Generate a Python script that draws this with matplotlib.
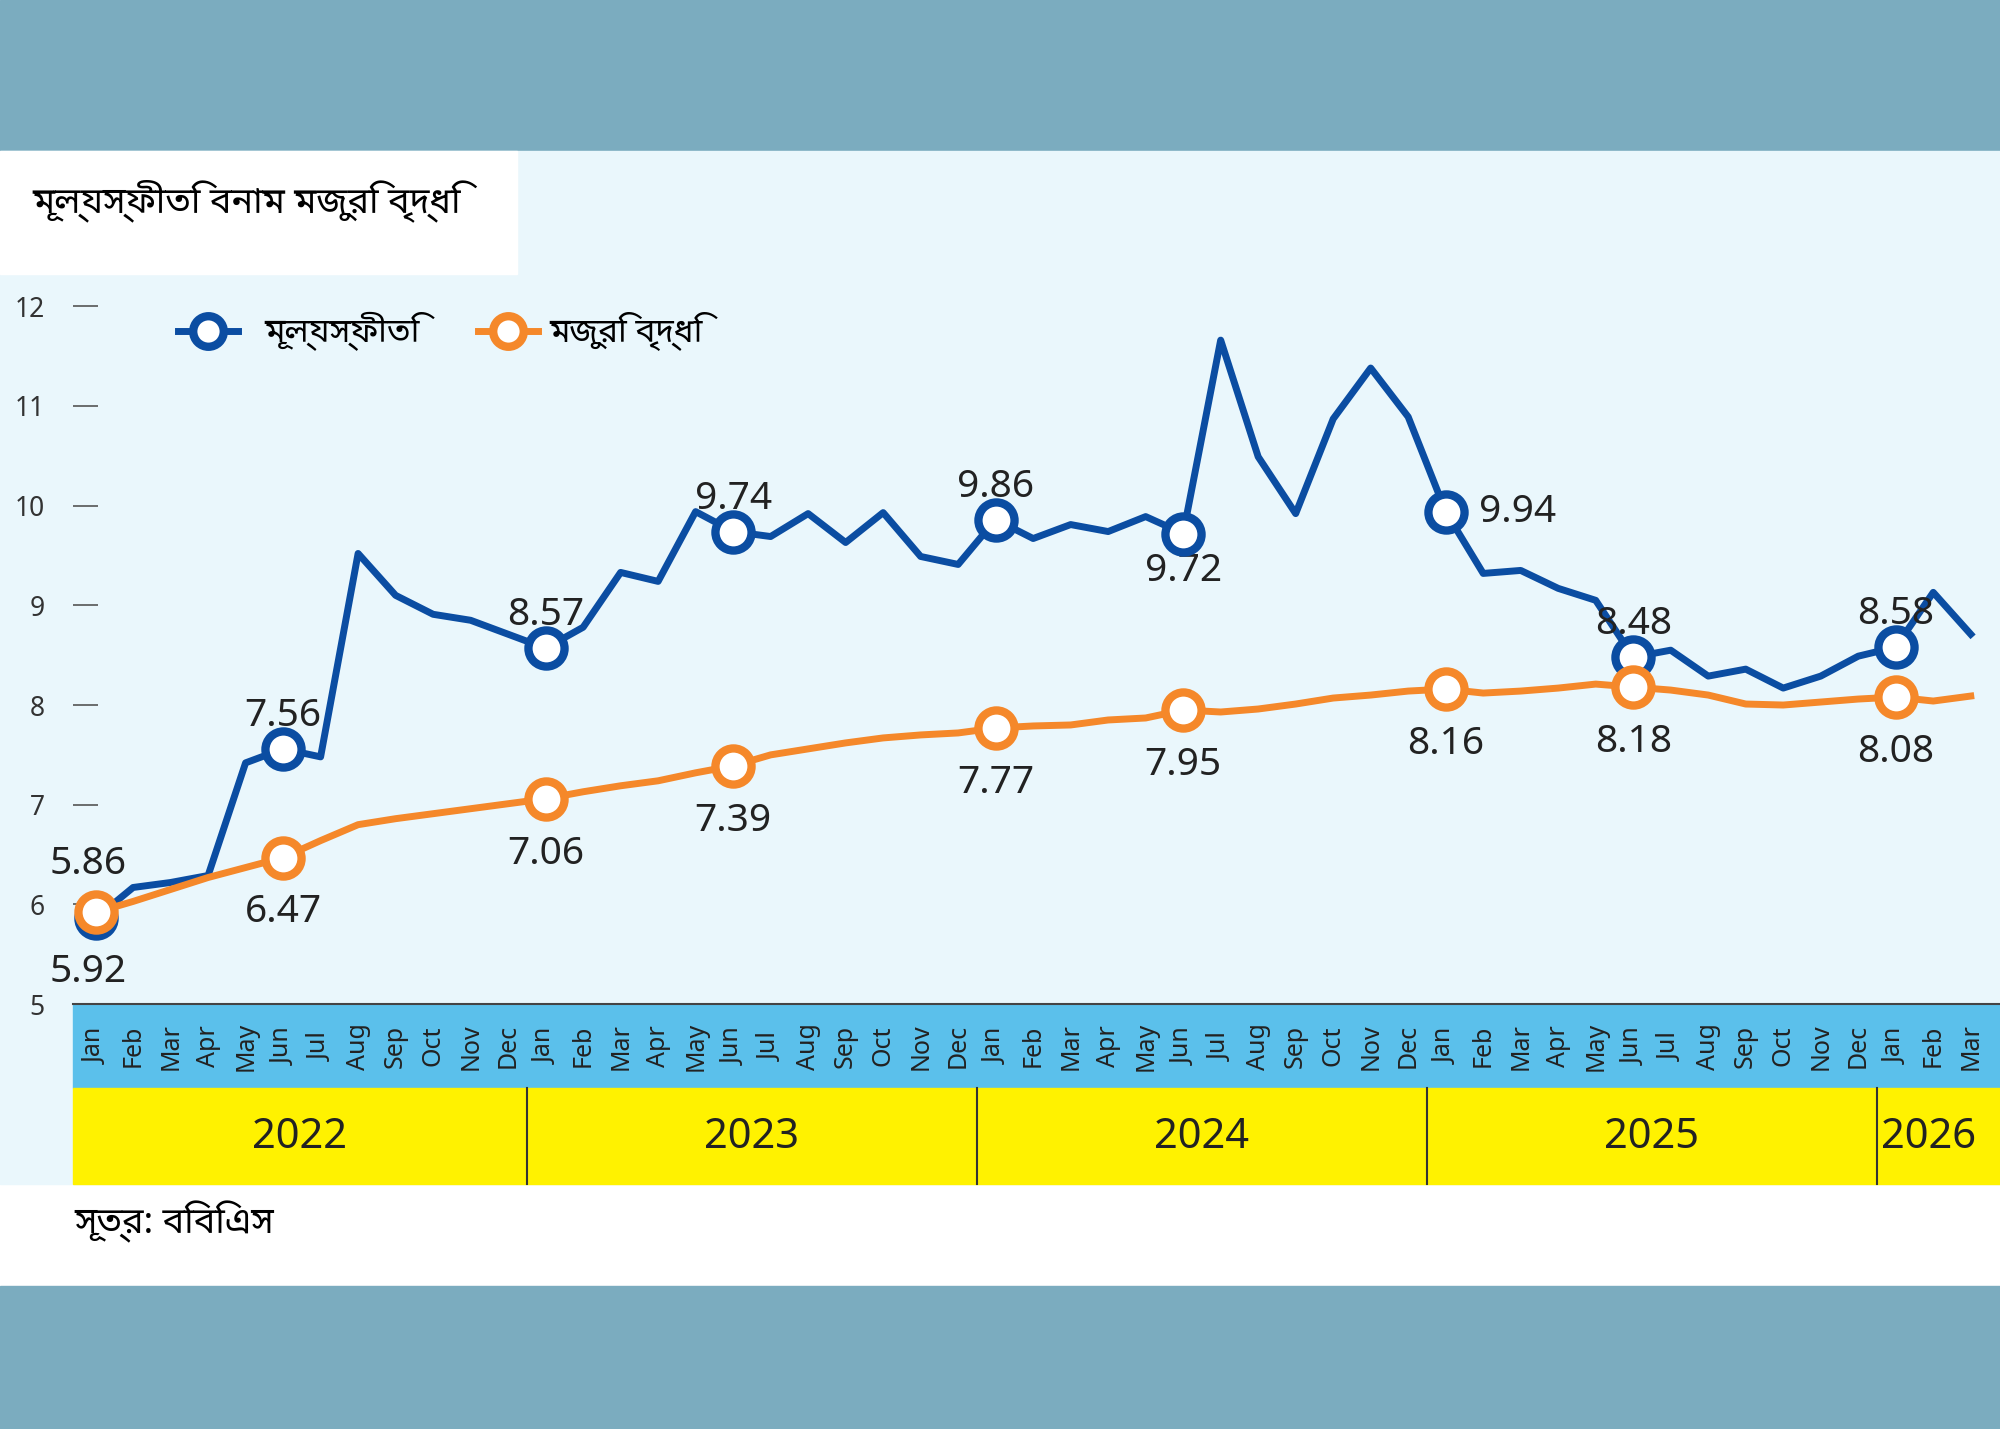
import matplotlib.pyplot as plt
from matplotlib.patches import Rectangle

plt.rcParams['font.family'] = ['Liberation Sans Narrow', 'Noto Sans', 'DejaVu Sans']

months = ['Jan', 'Feb', 'Mar', 'Apr', 'May', 'Jun', 'Jul', 'Aug', 'Sep', 'Oct', 'Nov', 'Dec']
month_labels = months * 4 + months[:3]
years = ['2022', '2023', '2024', '2025', '2026']

inflation = [5.86, 6.17, 6.22, 6.29, 7.42, 7.56, 7.48, 9.52, 9.10, 8.91, 8.85, 8.71,
             8.57, 8.78, 9.33, 9.24, 9.94, 9.74, 9.69, 9.92, 9.63, 9.93, 9.49, 9.41,
             9.86, 9.67, 9.81, 9.74, 9.89, 9.72, 11.66, 10.49, 9.92, 10.87, 11.38, 10.89,
             9.94, 9.32, 9.35, 9.17, 9.05, 8.48, 8.55, 8.29, 8.36, 8.17, 8.29, 8.49,
             8.58, 9.13, 8.71]
wages = [5.92, 6.03, 6.15, 6.27, 6.37, 6.47, 6.64, 6.80, 6.86, 6.91, 6.96, 7.01,
         7.06, 7.13, 7.19, 7.24, 7.32, 7.39, 7.50, 7.56, 7.62, 7.67, 7.70, 7.72,
         7.77, 7.79, 7.80, 7.85, 7.87, 7.95, 7.93, 7.96, 8.01, 8.07, 8.10, 8.14,
         8.16, 8.12, 8.14, 8.17, 8.21, 8.18, 8.15, 8.10, 8.01, 8.00, 8.03, 8.06,
         8.08, 8.04, 8.09]
marked = [0, 5, 12, 17, 24, 29, 36, 41, 48]

blue = '#0B4DA2'
orange = '#F5882A'

fig = plt.figure(figsize=(20, 14.29), dpi=100)
fig.patch.set_facecolor('white')
H = 1120.0
W = 1568.0

def fy(y):
    return 1 - y / H

# background bands
fig.patches.append(Rectangle((0, fy(118)), 1, 118 / H, transform=fig.transFigure, color='#7BACBF', zorder=0))
fig.patches.append(Rectangle((0, 0), 1, fy(1008), transform=fig.transFigure, color='#7BACBF', zorder=0))
fig.patches.append(Rectangle((0, fy(928)), 1, (928 - 118) / H, transform=fig.transFigure, color='#EAF7FC', zorder=0))
fig.patches.append(Rectangle((0, fy(215)), 405 / W, 97 / H, transform=fig.transFigure, color='white', zorder=0))
# month strip and year strip
fig.patches.append(Rectangle((57 / W, fy(853)), 1, 66 / H, transform=fig.transFigure, color='#5BC0EB', zorder=0))
fig.patches.append(Rectangle((57 / W, fy(928)), 1, 75 / H, transform=fig.transFigure, color='#FFF200', zorder=0))

ax = fig.add_axes([57 / W, fy(787), 1 - 57 / W, fy(215) - fy(787)])
ax.set_zorder(2)
ax.set_facecolor('none')
x = list(range(len(inflation)))
ax.set_xlim(-0.61, 50.78)
ax.set_ylim(5, 12.32)

ax.plot(x, inflation, color=blue, lw=5, zorder=3, clip_on=False)
ax.plot(x, wages, color=orange, lw=5, zorder=3, clip_on=False)
ax.plot([x[i] for i in marked], [inflation[i] for i in marked], 'o', ms=26, mfc='white',
        mec=blue, mew=6, zorder=4, clip_on=False)
ax.plot([x[i] for i in marked], [wages[i] for i in marked], 'o', ms=26, mfc='white',
        mec=orange, mew=6, zorder=5, clip_on=False)

for i in marked:
    yo = 0.33
    ha = 'center'
    xo = 0
    if i == 29:
        yo = -0.38
    if i == 36:
        yo, xo, ha = 0.0, 0.9, 'left'
    if i == 0:
        yo, xo = 0.55, -0.2
    ax.text(x[i] + xo, inflation[i] + yo, f'{inflation[i]:.2f}', ha=ha, va='center', fontsize=28, color='#222')
    wo = -0.55 if i != 0 else -0.6
    ax.text(x[i] + (-0.2 if i == 0 else 0), wages[i] + wo, f'{wages[i]:.2f}', ha='center', va='center',
            fontsize=28, color='#222')

ax.set_yticks(range(5, 13))
ax.set_yticklabels([str(v) for v in range(5, 13)], fontsize=19, color='#333')
ax.tick_params(axis='y', direction='in', length=18, width=1.2, color='#555', pad=20)
ax.set_xticks([])
for s in ['top', 'right', 'left']:
    ax.spines[s].set_visible(False)
ax.spines['bottom'].set_color('#444')
ax.spines['bottom'].set_linewidth(1.5)

# month labels
for i, m in enumerate(month_labels):
    xf = (75 + i * 29.4) / W
    fig.text(xf, fy(820), m, rotation=90, ha='center', va='center', fontsize=18, color='#222')
# year labels with dividers
starts = [0, 12, 24, 36, 48]
ends = [12, 24, 36, 48, 50.78]
for yr, s, e in zip(years, starts, ends):
    lx = 57 / W if s == 0 else (75 + (s - 0.5) * 29.4) / W
    rx = min((75 + (e - 0.5) * 29.4) / W, 1.0)
    if s > 0:
        fig.lines.append(plt.Line2D([lx, lx], [fy(928), fy(853)], transform=fig.transFigure, color='#333', lw=1.5))
    fig.text((lx + rx) / 2, fy(891), yr, ha='center', va='center', fontsize=30, color='#222')

bn = ['Noto Sans Bengali', 'Noto Sans', 'DejaVu Sans']
fig.text(25 / W, fy(157), 'মূল্যস্ফীতি বনাম মজুরি বৃদ্ধি', fontsize=26, ha='left', va='center', family=bn)
fig.text(58 / W, fy(958), 'সূত্র: বিবিএস', fontsize=26, ha='left', va='center', family=bn)

# legend
ax.plot([3.0], [11.75], 'o', ms=22, mfc='white', mec=blue, mew=6, zorder=6)
ax.plot([2.2, 3.8], [11.75, 11.75], color=blue, lw=5, zorder=5)
ax.text(4.5, 11.75, 'মূল্যস্ফীতি', fontsize=24, va='center', family=bn)
ax.plot([11.0], [11.75], 'o', ms=22, mfc='white', mec=orange, mew=6, zorder=6)
ax.plot([10.2, 11.8], [11.75, 11.75], color=orange, lw=5, zorder=5)
ax.text(12.1, 11.75, 'মজুরি বৃদ্ধি', fontsize=24, va='center', family=bn)

fig.savefig('out.png', dpi=100)
